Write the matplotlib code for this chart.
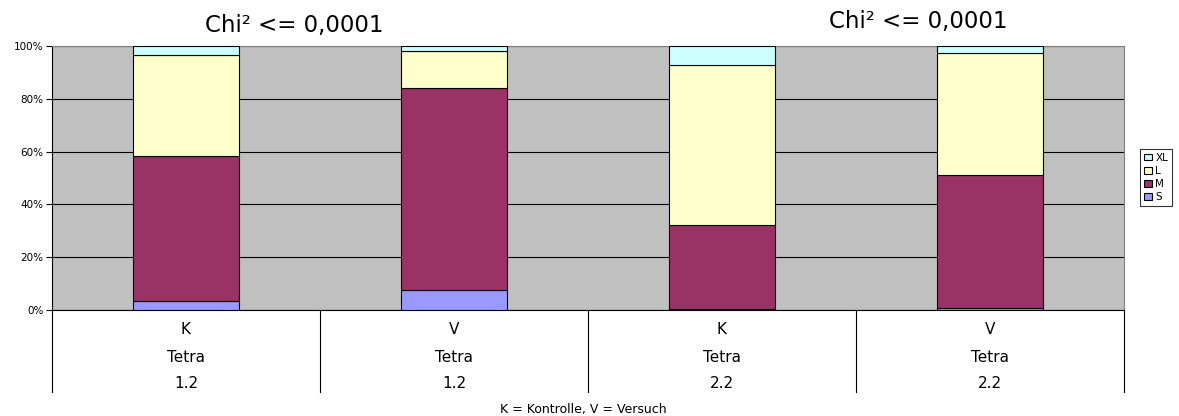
import matplotlib
matplotlib.use("Agg")
import matplotlib.pyplot as plt
import numpy as np
from matplotlib.ticker import PercentFormatter

plt.rcParams["font.family"] = ["DejaVu Sans"]

# categories (three label rows)
row1 = ["K", "V", "K", "V"]
row2 = ["Tetra", "Tetra", "Tetra", "Tetra"]
row3 = ["1.2", "1.2", "2.2", "2.2"]

# shares, in percent
s_vals = [3.4, 7.6, 0.3, 0.8]
m_vals = [54.9, 76.5, 31.9, 50.3]
l_vals = [38.3, 14.0, 60.6, 46.2]
xl_vals = [3.4, 1.9, 7.2, 2.7]

series = ["S", "M", "L", "XL"]
colors = ["#9999FF", "#993366", "#FFFFCC", "#CCFFFF"]

W, H = 1179, 416
fig = plt.figure(figsize=(W / 100, H / 100), dpi=100)
ax = fig.add_axes([52 / W, (H - 310) / H, (1124 - 52) / W, 264 / H])
ax.set_facecolor("#C0C0C0")

x = np.arange(len(row1))
bottom = np.zeros(len(row1))
handles = []
for name, vals, c in zip(series, [s_vals, m_vals, l_vals, xl_vals], colors):
    b = ax.bar(x, vals, width=0.395, bottom=bottom, color=c, edgecolor="black",
               linewidth=0.8, label=name, zorder=3)
    handles.append(b)
    bottom += np.array(vals)

ax.set_xlim(-0.5, len(row1) - 0.5)
ax.set_ylim(0, 100)
ax.set_yticks(np.arange(0, 101, 20))
ax.yaxis.set_major_formatter(PercentFormatter(decimals=0))
ax.tick_params(axis="y", labelsize=7.5, length=4, width=0.8, pad=2)
ax.set_xticks([])
ax.grid(axis="y", color="black", linewidth=0.8, zorder=1)
ax.set_axisbelow(True)
for side in ["top", "right"]:
    ax.spines[side].set_color("#808080")
ax.spines["left"].set_color("black")
ax.spines["bottom"].set_color("black")

# multi-level category labels below the axis
trans = ax.get_xaxis_transform()
for i in range(len(row1)):
    ax.text(i, -0.091, row1[i], transform=trans, ha="center", va="baseline", fontsize=11)
    ax.text(i, -0.197, row2[i], transform=trans, ha="center", va="baseline", fontsize=11)
    ax.text(i, -0.295, row3[i], transform=trans, ha="center", va="baseline", fontsize=11)
for xb in np.arange(-0.5, len(row1), 1.0):
    ax.plot([xb, xb], [0, -0.31], transform=trans, color="black",
            linewidth=0.8, clip_on=False)

fig.text(294 / W, 1 - 32 / H, "Chi² <= 0,0001", ha="center", va="baseline", fontsize=16.5)
fig.text(918 / W, 1 - 28 / H, "Chi² <= 0,0001", ha="center", va="baseline", fontsize=16.5)
fig.text(583 / W, 1 - 413 / H, "K = Kontrolle, V = Versuch", ha="center",
         va="baseline", fontsize=9)

leg = fig.legend(handles[::-1], series[::-1], loc="center",
                 bbox_to_anchor=(1156 / W, 1 - 177.5 / H), fontsize=7.5,
                 frameon=True, fancybox=False, edgecolor="black",
                 handlelength=0.8, handleheight=0.6, handletextpad=0.3,
                 borderpad=0.35, labelspacing=0.3, borderaxespad=0)
leg.get_frame().set_linewidth(0.8)

fig.savefig("out.png", dpi=100)
